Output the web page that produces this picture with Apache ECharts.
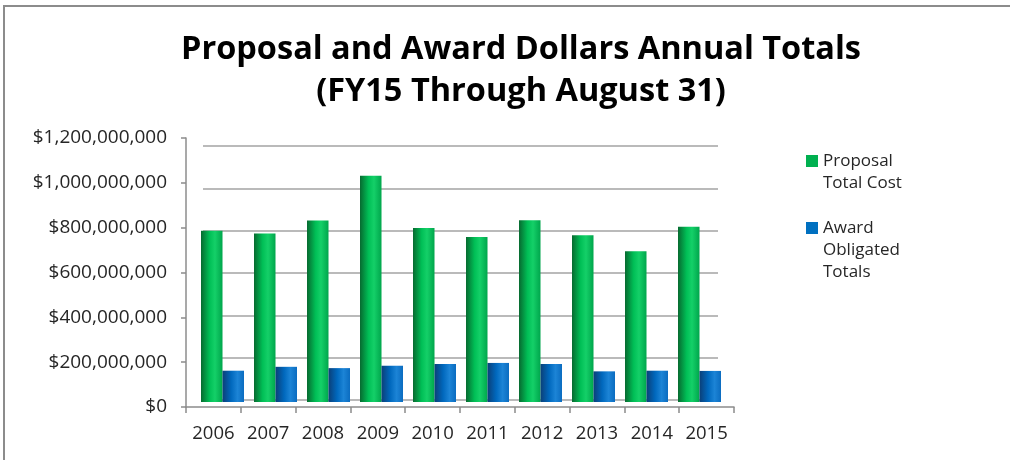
<!DOCTYPE html>
<html>
<head>
<meta charset="utf-8">
<script src="https://cdn.jsdelivr.net/npm/echarts@6/dist/echarts.min.js"></script>
<style>
  html, body { margin: 0; padding: 0; background: #fff; }
  #chart { position: absolute; left: 0; top: 0; width: 1010px; height: 460px; }
  .frame { position: absolute; left: 3px; top: 5px; right: 0; bottom: 0; border-top: 2px solid #8c8c8c; border-left: 2px solid #8c8c8c; pointer-events: none; }
</style>
</head>
<body>
<div id="chart"></div>
<div class="frame"></div>
<script>
// values
const years = ['2006', '2007', '2008', '2009', '2010', '2011', '2012', '2013', '2014', '2015']
const proposalTotals = [793000000, 781000000, 841000000, 1048000000, 806000000, 764000000, 842000000, 773000000, 699000000, 812000000]
const awardTotals = [145000000, 163000000, 157000000, 168000000, 176000000, 181000000, 176000000, 142000000, 145000000, 144000000]
const seriesNames = ['Proposal Total Cost', 'Award Obligated Totals']
// blank lines in front keep the first line level with the legend square
const legendLines = {
  'Proposal Total Cost': '\nProposal\nTotal Cost',
  'Award Obligated Totals': '\n\nAward\nObligated\nTotals'
}

const font = 'Open Sans'
const textColor = '#262626'
const axisGray = '#8c8c8c'

const chart = echarts.init(document.getElementById('chart'))

const green = new echarts.graphic.LinearGradient(0, 0, 1, 0, [
  { offset: 0, color: '#076a30' },
  { offset: 0.4, color: '#00bf56' },
  { offset: 0.65, color: '#14d068' },
  { offset: 1, color: '#00a64c' }
])
const blue = new echarts.graphic.LinearGradient(0, 0, 1, 0, [
  { offset: 0, color: '#0b3f78' },
  { offset: 0.4, color: '#0068bd' },
  { offset: 0.7, color: '#1c84d6' },
  { offset: 1, color: '#0b6cc0' }
])

const legendBase = {
  orient: 'vertical',
  left: 806,
  padding: 0,
  icon: 'rect',
  itemWidth: 12,
  itemHeight: 12,
  selectedMode: false,
  formatter: name => legendLines[name],
  textStyle: { fontFamily: font, fontSize: 17, lineHeight: 22, color: textColor }
}

const option = {
  animation: false,
  textStyle: { fontFamily: font },
  title: {
    text: 'Proposal and Award Dollars Annual Totals\n(FY15 Through August 31)',
    left: 516,
    textAlign: 'center',
    top: 24,
    textStyle: { fontFamily: font, fontSize: 32.5, fontWeight: 'bold', lineHeight: 42, color: '#000' }
  },
  legend: [
    Object.assign({}, legendBase, {
      top: 128,
      data: [{ name: seriesNames[0], itemStyle: { color: '#00b050' } }]
    }),
    Object.assign({}, legendBase, {
      top: 173,
      data: [{ name: seriesNames[1], itemStyle: { color: '#0070c0' } }]
    })
  ],
  grid: [
    // bars, set back from the front axis
    { left: 196, right: 284, top: 143, bottom: 58 },
    // back wall gridlines
    { left: 203, right: 292, top: 146, bottom: 60 },
    // front axes with labels
    { left: 186, right: 276, top: 138, bottom: 53 }
  ],
  xAxis: [
    { gridIndex: 0, type: 'category', data: years, show: false },
    { gridIndex: 1, type: 'category', data: years, show: false },
    {
      gridIndex: 2, type: 'category', data: years,
      axisLine: { lineStyle: { color: axisGray, width: 1.5 } },
      axisTick: { show: true, length: 6, lineStyle: { color: axisGray, width: 1.5 } },
      axisLabel: { interval: 0, margin: 17, fontFamily: font, fontSize: 18.5, color: textColor }
    }
  ],
  yAxis: [
    { gridIndex: 0, type: 'value', min: 0, max: 1200000000, show: false },
    {
      gridIndex: 1, type: 'value', min: 0, max: 1200000000, interval: 200000000,
      axisLine: { show: false }, axisTick: { show: false }, axisLabel: { show: false },
      splitLine: { show: true, lineStyle: { color: '#a3a3a3', width: 1.5 } }
    },
    {
      gridIndex: 2, type: 'value', min: 0, max: 1200000000, interval: 200000000,
      axisLine: { show: true, lineStyle: { color: axisGray, width: 1.5 } },
      axisTick: { show: true, length: 5, lineStyle: { color: axisGray, width: 1.5 } },
      splitLine: { show: false },
      axisLabel: {
        margin: 19, fontFamily: font, fontSize: 19, color: textColor,
        formatter: v => '$' + v.toLocaleString('en-US')
      }
    }
  ],
  series: [
    {
      name: seriesNames[0], type: 'bar', xAxisIndex: 0, yAxisIndex: 0,
      data: proposalTotals, barWidth: 21.5, barGap: '0%',
      itemStyle: { color: green }
    },
    {
      name: seriesNames[1], type: 'bar', xAxisIndex: 0, yAxisIndex: 0,
      data: awardTotals, barWidth: 21.5, barGap: '0%',
      itemStyle: { color: blue }
    }
  ]
}

chart.setOption(option)
</script>
</body>
</html>
